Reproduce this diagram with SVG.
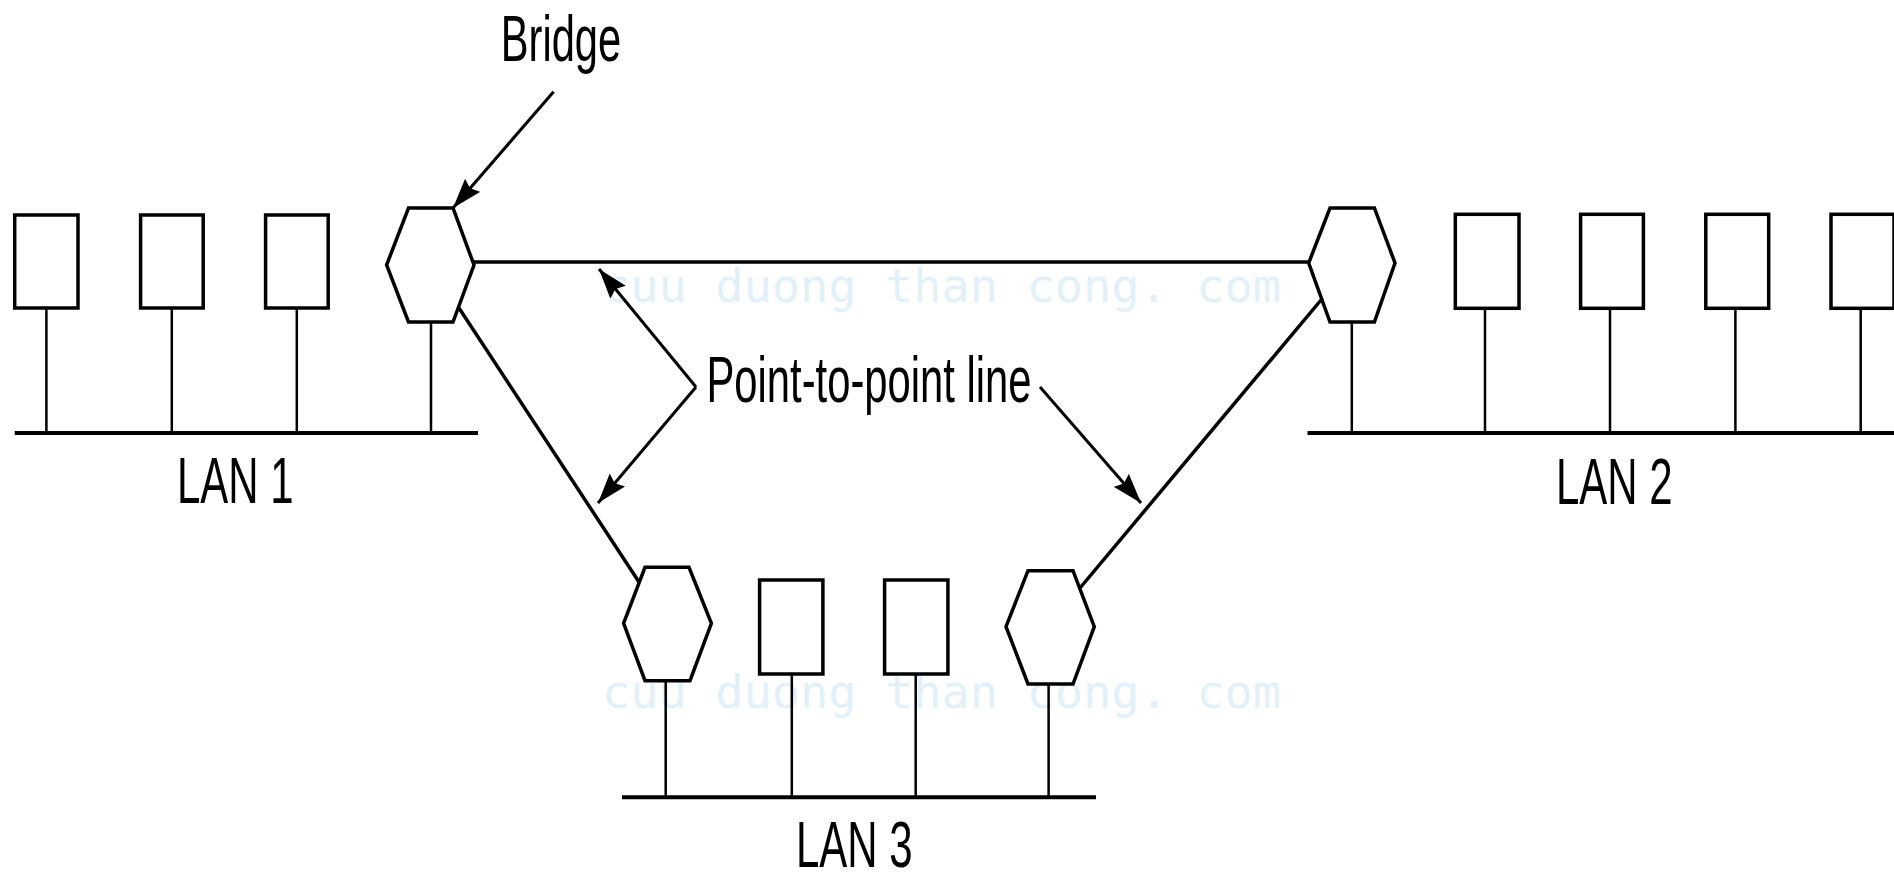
<svg xmlns="http://www.w3.org/2000/svg" width="1894" height="873" viewBox="0 0 1894 873">
<style>
.bg{fill:#ffffff}
.box{fill:#ffffff;stroke:#000;stroke-width:3.5}
.hex{fill:#ffffff;stroke:#000;stroke-width:3.5;stroke-linejoin:miter}
.stub{stroke:#000;stroke-width:2.5;fill:none}
.bus{stroke:#000;stroke-width:4;fill:none}
.link{stroke:#000;stroke-width:3.5;fill:none}
.arr{stroke:#000;stroke-width:3;fill:none;marker-end:url(#ah)}
.lbl{font-family:"Liberation Sans",Arial,sans-serif;font-size:64px;fill:#000}
.wm{font-family:"DejaVu Sans Mono","Liberation Mono",monospace;font-size:47px;fill:#e2f1f9}
</style>
<defs>
<marker id="ah" viewBox="0 0 30 20" refX="30" refY="10" markerWidth="30" markerHeight="20" markerUnits="userSpaceOnUse" orient="auto">
<path d="M0,0 L30,10 L0,20 L4,10 Z" fill="#000"/>
</marker>
</defs>
<rect class="bg" x="0" y="0" width="1894" height="873"/>
<g id="watermark">
<text class="wm" x="602" y="302">cuu duong than cong. com</text>
<text class="wm" x="602" y="708">cuu duong than cong. com</text>
</g>
<g id="connectors">
<line class="link" x1="474" y1="262" x2="1309" y2="262"/>
<line class="link" x1="459" y1="308" x2="639" y2="582"/>
<line class="link" x1="1321" y1="300" x2="1080" y2="588"/>
<line class="arr" x1="553.6" y1="91.7" x2="453" y2="208"/>
<line class="arr" x1="696" y1="387" x2="599" y2="269"/>
<line class="arr" x1="696" y1="387" x2="598" y2="503"/>
<line class="arr" x1="1040" y1="387" x2="1141" y2="503"/>
</g>
<g id="lan1">
<line class="bus" x1="14.7" y1="433" x2="478" y2="433"/>
<line class="stub" x1="46.4" y1="308" x2="46.4" y2="433"/>
<line class="stub" x1="171.8" y1="308" x2="171.8" y2="433"/>
<line class="stub" x1="296.8" y1="308" x2="296.8" y2="433"/>
<line class="stub" x1="431" y1="322" x2="431" y2="433"/>
<rect class="box" x="14.7" y="215" width="63.3" height="93"/>
<rect class="box" x="140.6" y="215" width="62.6" height="93"/>
<rect class="box" x="265.6" y="215" width="62.6" height="93"/>
<text class="lbl" x="177" y="503.3" textLength="116.5" lengthAdjust="spacingAndGlyphs">LAN 1</text>
</g>
<g id="bridge1">
<polygon class="hex" points="408.5,208 453,208 474,265 453,322 408.5,322 386.6,265"/>
</g>
<g id="lan2">
<line class="bus" x1="1307.5" y1="433" x2="1894" y2="433"/>
<line class="stub" x1="1351.8" y1="322" x2="1351.8" y2="433"/>
<line class="stub" x1="1485" y1="308" x2="1485" y2="433"/>
<line class="stub" x1="1610" y1="308" x2="1610" y2="433"/>
<line class="stub" x1="1735.4" y1="308" x2="1735.4" y2="433"/>
<line class="stub" x1="1860.7" y1="308" x2="1860.7" y2="433"/>
<rect class="box" x="1455.3" y="214.3" width="63.7" height="94"/>
<rect class="box" x="1580.6" y="214.3" width="62.8" height="94"/>
<rect class="box" x="1705.8" y="214.3" width="62.9" height="94"/>
<rect class="box" x="1831" y="214.3" width="63" height="94"/>
<text class="lbl" x="1556" y="503.5" textLength="116.5" lengthAdjust="spacingAndGlyphs">LAN 2</text>
</g>
<g id="bridge2">
<polygon class="hex" points="1330,208 1374.4,208 1395,263 1374.4,322 1330,322 1308.7,263"/>
</g>
<g id="lan3">
<line class="bus" x1="622" y1="797.3" x2="1096" y2="797.3"/>
<line class="stub" x1="665.7" y1="681" x2="665.7" y2="797"/>
<line class="stub" x1="791.8" y1="674" x2="791.8" y2="797"/>
<line class="stub" x1="915.7" y1="674" x2="915.7" y2="797"/>
<line class="stub" x1="1048.6" y1="684" x2="1048.6" y2="797"/>
<rect class="box" x="759.6" y="580" width="63.3" height="94"/>
<rect class="box" x="884.6" y="580" width="63.3" height="94"/>
<text class="lbl" x="796" y="867" textLength="116.5" lengthAdjust="spacingAndGlyphs">LAN 3</text>
</g>
<g id="bridge3a">
<polygon class="hex" points="645,567.3 689,567.3 711.4,623.3 690,680.7 645,680.7 623.6,623.3"/>
</g>
<g id="bridge3b">
<polygon class="hex" points="1028,570.7 1073,570.7 1094.3,626.7 1073,684 1028,684 1006,626.7"/>
</g>
<g id="labels">
<text class="lbl" x="500.7" y="61" textLength="120.5" lengthAdjust="spacingAndGlyphs">Bridge</text>
<text class="lbl" x="706.5" y="401.7" textLength="325" lengthAdjust="spacingAndGlyphs">Point-to-point line</text>
</g>
</svg>
